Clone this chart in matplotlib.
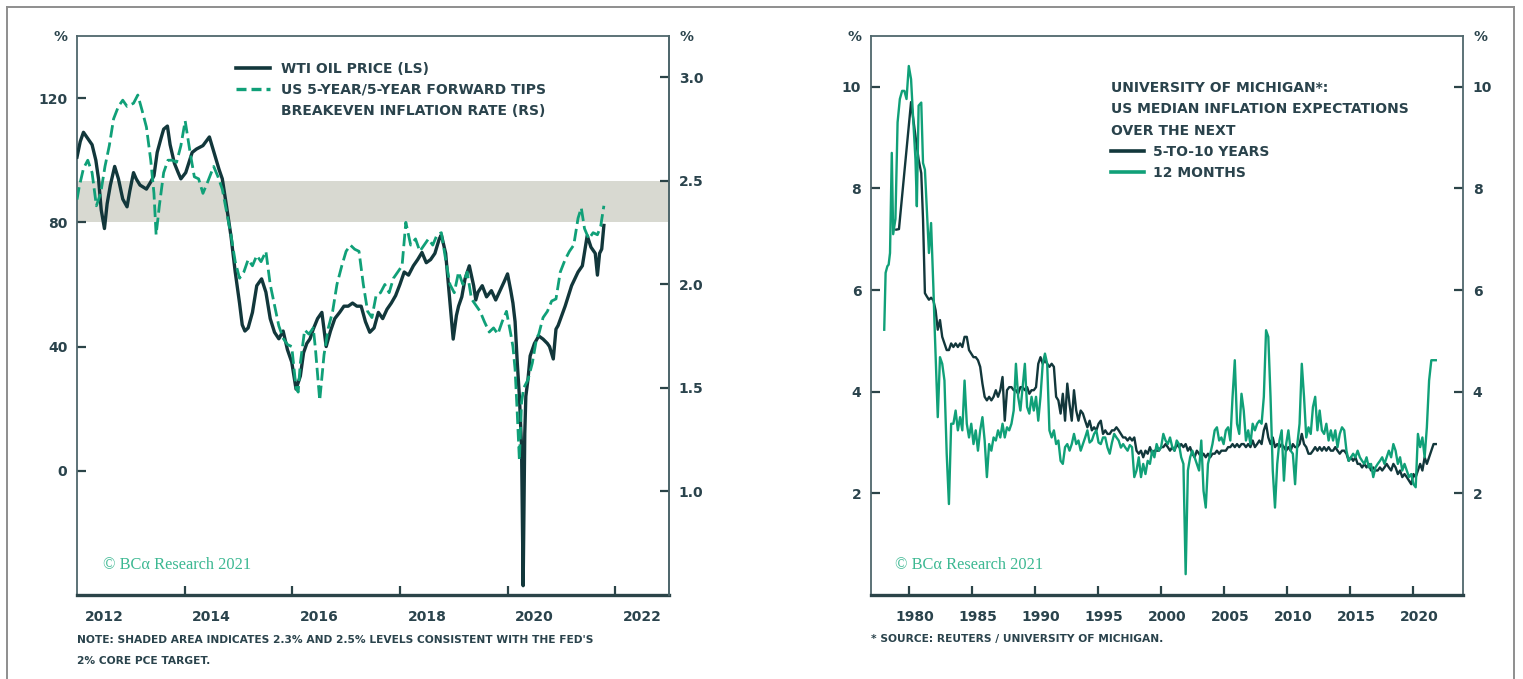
import numpy as np
import matplotlib
matplotlib.use("Agg")
import matplotlib.pyplot as plt
from matplotlib.lines import Line2D

# ---------------- DATA ----------------
# Left panel: WTI oil price (LS, US$) and 5y/5y forward TIPS breakeven (RS, %)
wti_years = [2012.00, 2012.06, 2012.12, 2012.20, 2012.28, 2012.35, 2012.40, 2012.45, 2012.51, 2012.56,
             2012.62, 2012.70, 2012.77, 2012.85, 2012.93, 2012.98, 2013.05, 2013.10, 2013.17, 2013.29,
             2013.37, 2013.43, 2013.49, 2013.56, 2013.61, 2013.68, 2013.73, 2013.81, 2013.88, 2013.93,
             2014.02, 2014.14, 2014.22, 2014.34, 2014.46, 2014.52, 2014.58, 2014.64, 2014.70, 2014.78,
             2014.86, 2014.94, 2015.02, 2015.07, 2015.12, 2015.18, 2015.26, 2015.34, 2015.43, 2015.51,
             2015.59, 2015.67, 2015.75, 2015.83, 2015.91, 2015.99, 2016.07, 2016.15, 2016.21, 2016.27,
             2016.33, 2016.39, 2016.47, 2016.55, 2016.63, 2016.71, 2016.79, 2016.88, 2016.96, 2017.04,
             2017.12, 2017.20, 2017.28, 2017.36, 2017.44, 2017.52, 2017.60, 2017.68, 2017.76, 2017.84,
             2017.92, 2018.00, 2018.08, 2018.16, 2018.25, 2018.33, 2018.41, 2018.49, 2018.57, 2018.65,
             2018.73, 2018.77, 2018.85, 2018.89, 2018.93, 2018.99, 2019.05, 2019.09, 2019.15, 2019.21,
             2019.29, 2019.37, 2019.41, 2019.45, 2019.53, 2019.61, 2019.70, 2019.78, 2019.86, 2019.94,
             2020.00, 2020.06, 2020.10, 2020.14, 2020.18, 2020.22, 2020.26, 2020.29, 2020.32, 2020.34,
             2020.38, 2020.42, 2020.50, 2020.58, 2020.66, 2020.74, 2020.78, 2020.85, 2020.90, 2020.94,
             2021.07, 2021.19, 2021.31, 2021.39, 2021.48, 2021.55, 2021.63, 2021.67, 2021.71, 2021.75,
             2021.79]
wti_price = [101, 106, 109, 107, 105, 100, 94, 84, 78, 86,
             92, 98, 94, 87.5, 85, 90, 96, 94, 92, 90.7,
             93, 95, 102.5, 107, 110, 111, 105, 99, 96, 94,
             96, 102.5, 103.6, 104.7, 107.5, 104, 100.4, 97, 94, 85,
             75.7, 64, 54, 47, 45, 46, 51, 59.6, 61.8, 57.5,
             49, 44.6, 42.5, 45, 39, 35, 26.3, 30.5, 38, 41,
             42.5, 45.6, 49, 51, 40, 45, 49, 51, 53, 53,
             54, 53, 53, 48, 44.6, 46, 51, 49, 52, 54,
             56.4, 60, 64, 63, 66, 68, 70.3, 67, 68, 70,
             74.6, 76, 70, 62, 54, 42.4, 50, 53, 56, 61.8,
             66, 59.6, 55, 57.5, 59.6, 56, 58, 55, 58, 61,
             63.4, 58, 54, 48, 35, 24, 8, -37, 12, 24,
             29.5, 37, 41, 43.4, 42.4, 41, 40, 36, 45.6, 46.8,
             53, 59.6, 64, 66, 75.7, 72, 70, 63, 70, 71.4,
             79]

be_years = [2012.00, 2012.04, 2012.12, 2012.20, 2012.28, 2012.36, 2012.44, 2012.52, 2012.60, 2012.68,
            2012.77, 2012.85, 2012.93, 2013.05, 2013.13, 2013.21, 2013.29, 2013.37, 2013.43, 2013.47,
            2013.53, 2013.61, 2013.69, 2013.77, 2013.85, 2013.93, 2014.01, 2014.10, 2014.18, 2014.26,
            2014.34, 2014.42, 2014.54, 2014.62, 2014.70, 2014.78, 2014.86, 2014.94, 2015.02, 2015.10,
            2015.18, 2015.26, 2015.34, 2015.42, 2015.51, 2015.59, 2015.67, 2015.75, 2015.83, 2015.91,
            2015.99, 2016.07, 2016.11, 2016.15, 2016.23, 2016.31, 2016.39, 2016.43, 2016.51, 2016.59,
            2016.67, 2016.75, 2016.83, 2016.92, 2017.00, 2017.08, 2017.16, 2017.24, 2017.32, 2017.40,
            2017.48, 2017.56, 2017.64, 2017.72, 2017.80, 2017.88, 2017.96, 2018.04, 2018.11, 2018.20,
            2018.29, 2018.37, 2018.45, 2018.53, 2018.61, 2018.69, 2018.77, 2018.85, 2018.93, 2019.01,
            2019.09, 2019.17, 2019.25, 2019.33, 2019.41, 2019.49, 2019.57, 2019.66, 2019.74, 2019.82,
            2019.90, 2019.98, 2020.06, 2020.10, 2020.14, 2020.18, 2020.22, 2020.26, 2020.30, 2020.38,
            2020.46, 2020.54, 2020.58, 2020.66, 2020.74, 2020.82, 2020.90, 2020.98, 2021.07, 2021.15,
            2021.23, 2021.31, 2021.37, 2021.43, 2021.51, 2021.59, 2021.67, 2021.73, 2021.79]
be_rate = [2.41, 2.47, 2.56, 2.60, 2.54, 2.38, 2.44, 2.57, 2.67, 2.80,
           2.86, 2.89, 2.86, 2.875, 2.915, 2.84, 2.76, 2.60, 2.44, 2.24,
           2.38, 2.54, 2.60, 2.60, 2.59, 2.67, 2.79, 2.64, 2.52, 2.51,
           2.44, 2.49, 2.57, 2.52, 2.46, 2.35, 2.24, 2.11, 2.03, 2.06,
           2.12, 2.09, 2.14, 2.11, 2.16, 2.00, 1.90, 1.80, 1.74, 1.71,
           1.70, 1.50, 1.48, 1.62, 1.78, 1.76, 1.79, 1.69, 1.44, 1.66,
           1.79, 1.87, 2.00, 2.09, 2.16, 2.19, 2.17, 2.16, 2.00, 1.87,
           1.84, 1.95, 1.96, 2.00, 1.96, 2.03, 2.06, 2.09, 2.30, 2.19,
           2.22, 2.16, 2.19, 2.22, 2.19, 2.24, 2.25, 2.12, 2.00, 1.96,
           2.06, 2.00, 2.06, 1.93, 1.90, 1.87, 1.82, 1.77, 1.79, 1.76,
           1.82, 1.87, 1.76, 1.70, 1.59, 1.38, 1.15, 1.43, 1.50, 1.54,
           1.62, 1.74, 1.76, 1.84, 1.87, 1.92, 1.93, 2.06, 2.12, 2.16,
           2.19, 2.32, 2.37, 2.27, 2.22, 2.25, 2.24, 2.28, 2.38]

fed_band = [2.3, 2.5]   # shaded breakeven range (RS)

left_xticks = [2014, 2016, 2018, 2020, 2022]
left_xlabels = ['2012', '2014', '2016', '2018', '2020', '2022']
left_yticks = [0, 40, 80, 120]
right_yticks = [1.0, 1.5, 2.0, 2.5, 3.0]

# Right panel: University of Michigan inflation expectations (%)
um12_early_years = [1978.05, 1978.16, 1978.30, 1978.40, 1978.51, 1978.65, 1978.76, 1978.94, 1979.11, 1979.29,
                    1979.47, 1979.65, 1979.82, 1980.00, 1980.18, 1980.35, 1980.53, 1980.64, 1980.78, 1980.99,
                    1981.13, 1981.28, 1981.42, 1981.60, 1981.77, 1981.95, 1982.06, 1982.20]
um12_early = [5.22, 6.34, 6.47, 6.5, 6.73, 8.70, 7.1, 7.4, 9.3, 9.76,
              9.92, 9.92, 9.76, 10.41, 10.15, 9.36, 8.57, 7.65, 9.63, 9.69,
              8.5, 8.37, 7.65, 6.73, 7.32, 6.07, 5.21, 4.22]
um510_early_years = [1979.01, 1979.22, 1980.18, 1980.53, 1980.78, 1980.99, 1981.13, 1981.28, 1981.42,
                     1981.60, 1981.77, 1981.95, 1982.13]
um510_early = [7.19, 7.2, 9.7, 9.03, 8.57, 8.3, 7.4, 5.94, 5.88, 5.81, 5.85, 5.8, 5.6]

# regular survey dates from 1982.3 to 2021.84 (224 readings)
um_main_start, um_main_end = 1982.30, 2021.84
um12_main = [3.50, 4.68, 4.55, 4.22, 2.78, 1.79, 3.37, 3.37, 3.63, 3.24,
             3.50, 3.24, 4.22, 3.37, 3.10, 3.37, 2.97, 3.24, 2.84, 3.24,
             3.50, 3.04, 2.32, 2.97, 2.84, 3.10, 3.04, 3.24, 3.10, 3.37,
             3.10, 3.30, 3.24, 3.37, 3.63, 4.55, 3.90, 3.63, 4.09, 4.55,
             3.70, 3.57, 3.90, 3.63, 3.90, 3.43, 3.90, 4.55, 4.75, 4.55,
             3.24, 3.10, 3.24, 2.97, 3.04, 2.64, 2.58, 2.91, 2.97, 2.84,
             2.97, 3.17, 2.97, 3.04, 2.84, 2.97, 3.10, 3.24, 3.00, 3.04,
             3.17, 3.24, 3.00, 2.97, 3.10, 3.10, 2.90, 2.78, 3.00, 3.17,
             3.10, 3.04, 2.90, 2.97, 2.90, 2.84, 2.95, 2.91, 2.32, 2.45,
             2.71, 2.32, 2.58, 2.38, 2.64, 2.58, 2.84, 2.71, 2.97, 2.84,
             2.91, 3.17, 3.04, 2.97, 3.10, 2.91, 2.84, 3.04, 2.97, 2.71,
             2.58, 0.41, 2.45, 2.71, 2.84, 2.71, 2.58, 2.45, 3.04, 2.05,
             1.72, 2.58, 2.78, 2.97, 3.24, 3.30, 3.04, 3.10, 2.97, 3.24,
             3.30, 3.04, 3.90, 4.62, 3.37, 3.17, 3.96, 3.63, 3.04, 3.24,
             2.97, 3.37, 3.24, 3.37, 3.43, 3.37, 3.90, 5.21, 5.08, 3.90,
             2.45, 1.72, 2.58, 3.04, 3.24, 2.25, 2.97, 3.24, 2.84, 2.78,
             2.18, 2.97, 3.37, 4.55, 3.90, 3.10, 3.30, 3.17, 3.70, 3.90,
             3.24, 3.63, 3.24, 3.17, 3.37, 3.04, 3.24, 3.04, 3.24, 2.91,
             3.17, 3.30, 3.24, 2.84, 2.64, 2.71, 2.78, 2.71, 2.84, 2.71,
             2.64, 2.58, 2.71, 2.51, 2.58, 2.32, 2.51, 2.58, 2.64, 2.71,
             2.58, 2.71, 2.84, 2.71, 2.97, 2.84, 2.58, 2.71, 2.45, 2.58,
             2.45, 2.32, 2.38, 2.18, 2.12, 3.17, 2.91, 3.10, 2.71, 3.30,
             4.22, 4.62, 4.62, 4.62]
um510_main = [5.22, 5.41, 5.08, 4.95, 4.82, 4.82, 4.95, 4.88, 4.95, 4.88,
              4.95, 4.88, 5.08, 5.08, 4.82, 4.75, 4.68, 4.68, 4.62, 4.49,
              4.16, 3.90, 3.83, 3.90, 3.83, 3.90, 4.03, 3.90, 4.03, 4.29,
              3.43, 4.03, 4.09, 4.09, 4.03, 4.03, 3.96, 4.09, 4.09, 4.03,
              4.09, 3.96, 4.03, 4.03, 4.09, 4.55, 4.68, 4.55, 4.62, 4.55,
              4.49, 4.55, 4.49, 3.90, 3.83, 3.57, 3.96, 3.43, 4.16, 3.76,
              3.43, 4.03, 3.63, 3.43, 3.63, 3.57, 3.43, 3.30, 3.43, 3.24,
              3.30, 3.24, 3.37, 3.43, 3.17, 3.24, 3.17, 3.17, 3.24, 3.24,
              3.30, 3.24, 3.17, 3.10, 3.10, 3.04, 3.10, 3.04, 3.10, 2.84,
              2.78, 2.84, 2.71, 2.84, 2.78, 2.91, 2.78, 2.84, 2.84, 2.84,
              2.91, 2.91, 2.97, 2.91, 2.84, 2.91, 2.84, 2.97, 2.91, 2.97,
              2.91, 2.97, 2.84, 2.91, 2.78, 2.71, 2.84, 2.78, 2.71, 2.78,
              2.71, 2.78, 2.71, 2.78, 2.78, 2.84, 2.78, 2.84, 2.84, 2.84,
              2.91, 2.91, 2.97, 2.91, 2.97, 2.91, 2.97, 2.97, 2.91, 2.97,
              2.91, 3.04, 2.91, 2.97, 3.04, 2.97, 3.24, 3.37, 3.10, 2.97,
              3.10, 2.91, 2.97, 2.91, 2.97, 2.91, 2.84, 2.91, 2.84, 2.97,
              2.91, 2.91, 2.97, 3.17, 2.97, 2.91, 2.78, 2.78, 2.84, 2.91,
              2.84, 2.91, 2.84, 2.91, 2.84, 2.91, 2.84, 2.84, 2.91, 2.84,
              2.78, 2.84, 2.84, 2.78, 2.64, 2.71, 2.64, 2.71, 2.58, 2.58,
              2.51, 2.58, 2.51, 2.58, 2.45, 2.51, 2.45, 2.45, 2.51, 2.45,
              2.51, 2.58, 2.51, 2.45, 2.58, 2.51, 2.38, 2.45, 2.32, 2.38,
              2.32, 2.25, 2.18, 2.38, 2.32, 2.45, 2.58, 2.45, 2.71, 2.58,
              2.71, 2.84, 2.97, 2.97]

um_xticks = [1980, 1985, 1990, 1995, 2000, 2005, 2010, 2015, 2020]
um_xlabels = ['1980', '1985', '1990', '1995', '2000', '2005', '2010', '2015', '2020']
um_yticks = [2, 4, 6, 8, 10]

# ---------------- STYLE ----------------
plt.rcParams['font.family'] = ['DejaVu Sans']
DARK = '#12373b'
GREEN = '#10a078'
TEXT = '#2a434c'
SPINE = '#4f676c'
SHADE = '#d8d9d1'
WM = '#3cb892'
FS = 10

W, H = 1523, 679
fig = plt.figure(figsize=(W / 100, H / 100), dpi=100)


def fx(px):
    return px / W


def fy(py):
    return 1 - py / H


def style_axes(ax):
    for s in ['left', 'top', 'right']:
        ax.spines[s].set_color(SPINE)
        ax.spines[s].set_linewidth(1.3)
    ax.spines['bottom'].set_color('#2b4448')
    ax.spines['bottom'].set_linewidth(2.4)
    ax.tick_params(axis='both', which='major', direction='in', length=6.5, width=1.6,
                   color='#2b4448', labelsize=FS, labelcolor=TEXT, pad=7)
    ax.tick_params(axis='x', which='major', labelbottom=False)
    ax.tick_params(axis='x', which='minor', length=0, labelsize=FS, labelcolor=TEXT, pad=11)
    for lab in ax.get_xticklabels(minor=True) + ax.get_yticklabels():
        lab.set_fontweight('bold')


ax_y0 = fy(595)
ax_h = fy(36) - fy(595)

# ---------------- LEFT PANEL ----------------
ax1 = fig.add_axes([fx(77), ax_y0, fx(669) - fx(77), ax_h])
ax1.set_xlim(2012, 2023)
ax1.set_ylim(-40, 140)
ax1b = ax1.twinx()
ax1b.set_ylim(0.5, 3.2)

# shaded band defined on RS, drawn on LS (behind the lines)
lo = ax1.transData.inverted().transform(ax1b.transData.transform((2012, fed_band[0])))[1]
hi = ax1.transData.inverted().transform(ax1b.transData.transform((2012, fed_band[1])))[1]
ax1.axhspan(lo, hi, color=SHADE, lw=0, zorder=0)

ax1.plot(wti_years, wti_price, color=DARK, lw=2.4, zorder=3, solid_joinstyle='round')
ax1b.plot(be_years, be_rate, color=GREEN, lw=2.0, ls=(0, (4.5, 1.8)), zorder=3)

ax1.set_xticks(left_xticks)
ax1.set_xticks([y + 0.5 for y in [2012] + left_xticks], minor=True)
ax1.set_xticklabels(left_xlabels, minor=True)
ax1.set_yticks(left_yticks)
ax1.set_yticklabels([str(v) for v in left_yticks])
style_axes(ax1)
ax1.tick_params(axis='y', right=False)

for s in ['left', 'top', 'bottom']:
    ax1b.spines[s].set_visible(False)
ax1b.spines['right'].set_color(SPINE)
ax1b.spines['right'].set_linewidth(1.3)
ax1b.set_yticks(right_yticks)
ax1b.set_yticklabels([f'{v:.1f}' for v in right_yticks])
ax1b.tick_params(axis='y', direction='in', length=6.5, width=1.6, color='#2b4448',
                 labelsize=FS, labelcolor=TEXT, pad=7)
for lab in ax1b.get_yticklabels():
    lab.set_fontweight('bold')

h1 = Line2D([], [], color=DARK, lw=2.6)
h2 = Line2D([], [], color=GREEN, lw=2.4, ls=(0, (3.0, 1.5)))
h3 = Line2D([], [], color='none')
leg1 = ax1b.legend([h1, h2, h3],
                   ['WTI OIL PRICE (LS)', 'US 5-YEAR/5-YEAR FORWARD TIPS', 'BREAKEVEN INFLATION RATE (RS)'],
                   loc='upper left', bbox_to_anchor=(0.268, 0.954), frameon=False,
                   handlelength=2.5, handletextpad=0.75, labelspacing=0.5,
                   borderpad=0, borderaxespad=0, prop=dict(weight='bold', size=FS))
for t in leg1.get_texts():
    t.set_color(TEXT)

ax1.text(0.044, 0.054, '\u00a9 BC\u03b1 Research 2021', transform=ax1.transAxes,
         color=WM, fontsize=11.8, family=['Liberation Serif', 'DejaVu Serif'], va='center')

# ---------------- RIGHT PANEL ----------------
ax2 = fig.add_axes([fx(871), ax_y0, fx(1463) - fx(871), ax_h])
ax2.set_xlim(1977, 2024)
ax2.set_ylim(0, 11)

um_main_years = np.linspace(um_main_start, um_main_end, len(um12_main))
um12_years = np.concatenate([um12_early_years, um_main_years])
um12_vals = np.concatenate([um12_early, um12_main])
um510_years = np.concatenate([um510_early_years, um_main_years])
um510_vals = np.concatenate([um510_early, um510_main])

ax2.plot(um510_years, um510_vals, color=DARK, lw=1.7, zorder=3)
ax2.plot(um12_years, um12_vals, color=GREEN, lw=1.7, zorder=4)

ax2.set_xticks(um_xticks)
ax2.set_xticks([y + 0.5 for y in um_xticks], minor=True)
ax2.set_xticklabels(um_xlabels, minor=True)
ax2.set_yticks(um_yticks)
ax2.set_yticklabels([str(v) for v in um_yticks])
style_axes(ax2)
ax2.tick_params(axis='y', right=True, labelright=True)
for lab in ax2.get_yticklabels():
    lab.set_fontweight('bold')

g1 = Line2D([], [], color=DARK, lw=2.6)
g2 = Line2D([], [], color=GREEN, lw=2.6)
leg2 = ax2.legend([g1, g2], ['5-TO-10 YEARS', '12 MONTHS'],
                  title='UNIVERSITY OF MICHIGAN*:\nUS MEDIAN INFLATION EXPECTATIONS\nOVER THE NEXT',
                  alignment='left', loc='upper left', bbox_to_anchor=(0.405, 0.92), frameon=False,
                  handlelength=2.4, handletextpad=0.65, labelspacing=0.5,
                  borderpad=0, borderaxespad=0, prop=dict(weight='bold', size=FS),
                  title_fontproperties=dict(weight='bold', size=FS))
leg2.get_title().set_color(TEXT)
leg2.get_title().set_linespacing(1.7)
for t in leg2.get_texts():
    t.set_color(TEXT)

ax2.text(0.04, 0.054, '\u00a9 BC\u03b1 Research 2021', transform=ax2.transAxes,
         color=WM, fontsize=11.8, family=['Liberation Serif', 'DejaVu Serif'], va='center')

# ---------------- FIGURE TEXT ----------------
for px in (60, 686, 855, 1481):
    fig.text(fx(px), fy(37), '%', ha='center', va='center', fontsize=FS,
             fontweight='bold', color=TEXT)

NS = 7.7
fig.text(fx(77), fy(640), "NOTE: SHADED AREA INDICATES 2.3% AND 2.5% LEVELS CONSISTENT WITH THE FED'S",
         ha='left', va='center', fontsize=NS, fontweight='bold', color=TEXT)
fig.text(fx(77), fy(661), "2% CORE PCE TARGET.",
         ha='left', va='center', fontsize=NS, fontweight='bold', color=TEXT)
fig.text(fx(871), fy(639), "* SOURCE: REUTERS / UNIVERSITY OF MICHIGAN.",
         ha='left', va='center', fontsize=NS, fontweight='bold', color=TEXT)

# outer frame
BORDER = '#8e8e8e'
fig.add_artist(Line2D([fx(7), fx(7)], [0, fy(7)], transform=fig.transFigure, color=BORDER, lw=1.4))
fig.add_artist(Line2D([fx(7), fx(1514)], [fy(7), fy(7)], transform=fig.transFigure, color=BORDER, lw=1.4))
fig.add_artist(Line2D([fx(1514), fx(1514)], [0, fy(7)], transform=fig.transFigure, color=BORDER, lw=1.4))

fig.savefig('out.png', dpi=100)
